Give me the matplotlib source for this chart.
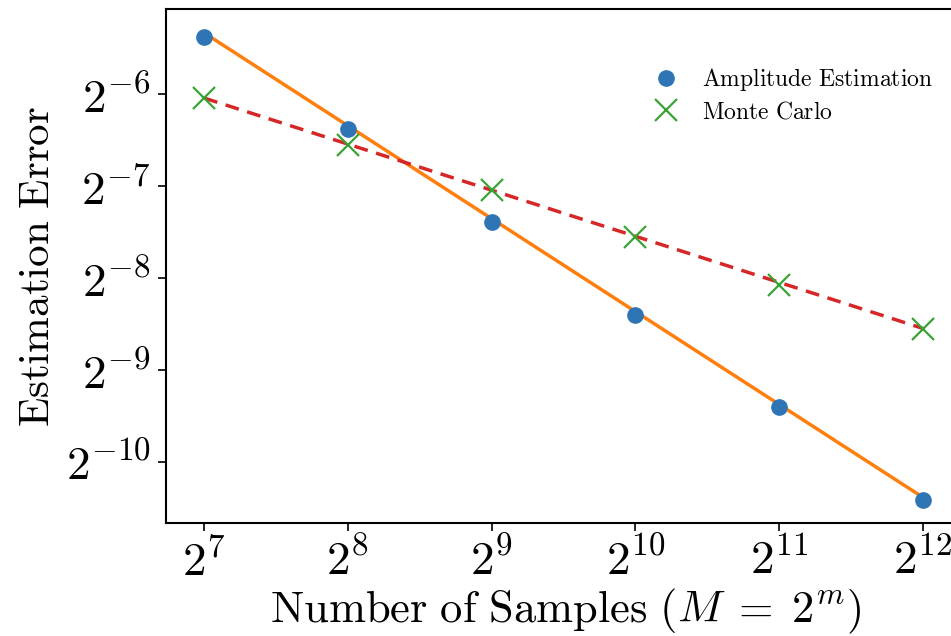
import numpy as np
import matplotlib
matplotlib.use('Agg')
import matplotlib.pyplot as plt

# 字體：Computer Modern 風格
plt.rcParams['font.family'] = 'serif'
plt.rcParams['font.serif'] = ['cmr10']
plt.rcParams['mathtext.fontset'] = 'cm'
plt.rcParams['axes.formatter.use_mathtext'] = True

m_exp = [7, 8, 9, 10, 11, 12]
ae_err_log2 = [-5.37, -6.38, -7.39, -8.40, -9.41, -10.42]
mc_err_log2 = [-6.04, -6.55, -7.04, -7.55, -8.08, -8.56]
ae_fit_ends = [-5.33, -10.39]
mc_fit_ends = [-6.04, -8.55]

samples = [2.0 ** m for m in m_exp]
ae_err = [2.0 ** v for v in ae_err_log2]
mc_err = [2.0 ** v for v in mc_err_log2]
fit_x = [samples[0], samples[-1]]

fig = plt.figure(figsize=[9.51, 6.36], dpi=100)
ax = fig.add_axes([166 / 951, 1 - 523 / 636, 800 / 951, 514 / 636])

ax.plot(fit_x, [2.0 ** v for v in ae_fit_ends], color='#ff7f0e', lw=2.5, zorder=2)
ax.plot(fit_x, [2.0 ** v for v in mc_fit_ends], color='#d62728', lw=2.5, ls='--', dashes=(4, 2.5), zorder=2)
ax.plot(samples, ae_err, 'o', color='#2f75b5', ms=11, label=r'$\mathrm{Amplitude\ Estimation}$', zorder=3)
ax.plot(samples, mc_err, 'x', color='#3aa335', ms=16, mew=1.6, label=r'$\mathrm{Monte\ Carlo}$', zorder=3)

ax.set_xscale('log', base=2)
ax.set_yscale('log', base=2)
ax.set_xlim(2 ** 6.735, 2 ** 12.3)
ax.set_ylim(2 ** -10.67, 2 ** -5.07)
ax.set_xticks(samples)
ax.set_xticklabels([rf'$2^{{{m}}}$' for m in m_exp])
ax.set_yticks([2.0 ** -k for k in range(6, 11)])
ax.set_yticklabels([rf'$2^{{-{k}}}$' for k in range(6, 11)])
ax.minorticks_off()
ax.tick_params(labelsize=34, length=6, width=1.2, pad=5)
for s in ax.spines.values():
    s.set_linewidth(1.5)

ax.set_xlabel(r'$\mathrm{Number\ of\ Samples}\ (M \;=\; 2^m)$', fontsize=32, labelpad=2)
ax.set_ylabel(r'$\mathrm{Estimation\ Error}$', fontsize=31, labelpad=6)

ax.legend(loc='upper right', bbox_to_anchor=(0.985, 0.93), frameon=False, fontsize=17,
          handletextpad=0.7, labelspacing=0.35, handlelength=1.6)

plt.savefig('out.png', dpi=100)
